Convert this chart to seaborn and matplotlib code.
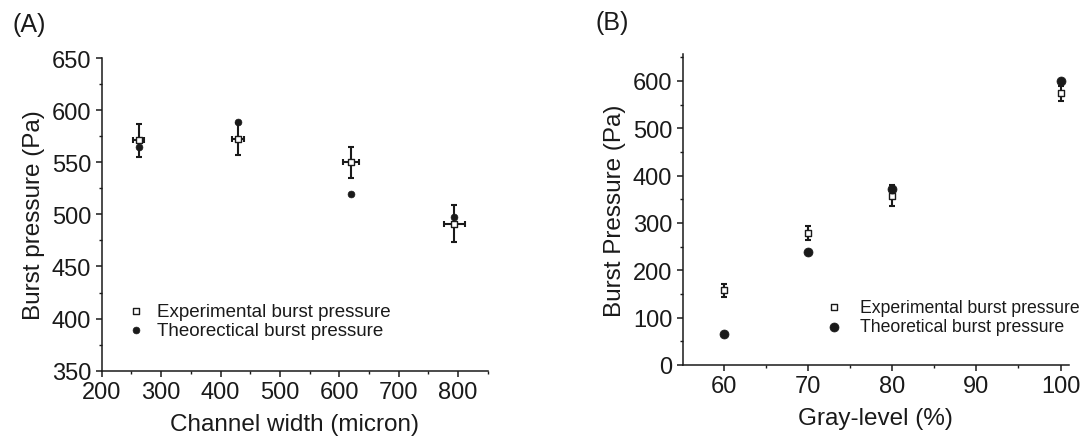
import matplotlib
matplotlib.use('Agg')
import matplotlib.pyplot as plt
import numpy as np
import pandas as pd
import seaborn as sns
from matplotlib.ticker import MultipleLocator

# data
# (A) burst pressure vs channel width
width_um = [262, 430, 620, 794]
width_err = [10, 10, 14, 18]
exp_a = [571, 572, 550, 491]
exp_a_err = [16, 15.5, 15, 18]
theo_a = [565, 589, 520, 497]

# (B) burst pressure vs gray-level
gray = [60, 70, 80, 100]
exp_b = [158, 279, 358, 574]
exp_b_err = [14, 15, 23, 16]
theo_b = [66, 238, 371, 599]

sns.set_style('ticks')
plt.rcParams['font.family'] = ['Liberation Sans', 'DejaVu Sans']
plt.rcParams['axes.linewidth'] = 1.1
plt.rcParams['xtick.major.width'] = 1.1
plt.rcParams['ytick.major.width'] = 1.1
plt.rcParams['xtick.minor.width'] = 1.0
plt.rcParams['ytick.minor.width'] = 1.0
plt.rcParams['xtick.major.size'] = 4
plt.rcParams['ytick.major.size'] = 4
plt.rcParams['xtick.minor.size'] = 2.5
plt.rcParams['ytick.minor.size'] = 2.5

frame_a = pd.DataFrame({'width': width_um, 'exp': exp_a, 'theo': theo_a})
frame_b = pd.DataFrame({'gray': gray, 'exp': exp_b, 'theo': theo_b})

fig = plt.figure(figsize=(10.8, 4.39), dpi=100)
ax1 = fig.add_axes([0.0942, 0.1533, 0.3574, 0.7123])
ax2 = fig.add_axes([0.6321, 0.1663, 0.3577, 0.7084])

txt = '#1a1a1a'

# panel A
ax1.errorbar(width_um, exp_a, yerr=exp_a_err, xerr=width_err, fmt='none',
             ecolor=txt, elinewidth=1.5, capsize=2.5, capthick=1.5, zorder=2)
sns.scatterplot(data=frame_a, x='width', y='theo', ax=ax1, marker='o', s=24,
                color=txt, edgecolor=txt, linewidth=0.5, zorder=3,
                label='Theorectical burst pressure')
sns.scatterplot(data=frame_a, x='width', y='exp', ax=ax1, marker='s', s=20,
                color='white', edgecolor=txt, linewidth=1.0, zorder=4,
                label='Experimental burst pressure')
ax1.set_xlim(200, 850)
ax1.set_ylim(350, 650)
ax1.xaxis.set_major_locator(MultipleLocator(100))
ax1.xaxis.set_minor_locator(MultipleLocator(50))
ax1.yaxis.set_major_locator(MultipleLocator(50))
ax1.yaxis.set_minor_locator(MultipleLocator(25))
ax1.set_xlabel('Channel width (micron)', fontsize=17.5, color=txt, labelpad=7)
ax1.set_ylabel('Burst pressure (Pa)', fontsize=17.5, color=txt, labelpad=5)
handles, labels = ax1.get_legend_handles_labels()
ax1.legend(handles[::-1], labels[::-1], loc='center left',
           bbox_to_anchor=(0.065, 0.159), frameon=False, fontsize=13.5,
           handlelength=1.0, handletextpad=0.6, borderpad=0, labelspacing=0.1,
           borderaxespad=0, labelcolor=txt)

# panel B
ax2.errorbar(gray, exp_b, yerr=exp_b_err, fmt='none', ecolor=txt,
             elinewidth=1.5, capsize=2.5, capthick=1.5, zorder=2)
sns.scatterplot(data=frame_b, x='gray', y='exp', ax=ax2, marker='s', s=16,
                color='white', edgecolor=txt, linewidth=1.0, zorder=3,
                label='Experimental burst pressure')
sns.scatterplot(data=frame_b, x='gray', y='theo', ax=ax2, marker='o', s=42,
                color=txt, edgecolor=txt, linewidth=0.5, zorder=4,
                label='Theoretical burst pressure')
ax2.set_xlim(55.1, 101)
ax2.set_ylim(0, 657)
ax2.xaxis.set_major_locator(MultipleLocator(10))
ax2.xaxis.set_minor_locator(MultipleLocator(5))
ax2.yaxis.set_major_locator(MultipleLocator(100))
ax2.yaxis.set_minor_locator(MultipleLocator(50))
ax2.set_xlabel('Gray-level (%)', fontsize=17.5, color=txt, labelpad=7)
ax2.set_ylabel('Burst Pressure (Pa)', fontsize=17.5, color=txt, labelpad=5)
ax2.legend(loc='center left', bbox_to_anchor=(0.369, 0.154), frameon=False,
           fontsize=12.7, handlelength=1.0, handletextpad=1.0, borderpad=0,
           labelspacing=0.15, borderaxespad=0, labelcolor=txt)

# panel letters
fig.text(0.012, 0.943, '(A)', fontsize=18, color=txt, va='center', ha='left')
fig.text(0.551, 0.948, '(B)', fontsize=18, color=txt, va='center', ha='left')

for ax in (ax1, ax2):
    sns.despine(ax=ax)
    ax.tick_params(which='both', direction='out', colors=txt, labelsize=17)
    for sp in ax.spines.values():
        sp.set_color(txt)

fig.savefig('out.png', dpi=100)
